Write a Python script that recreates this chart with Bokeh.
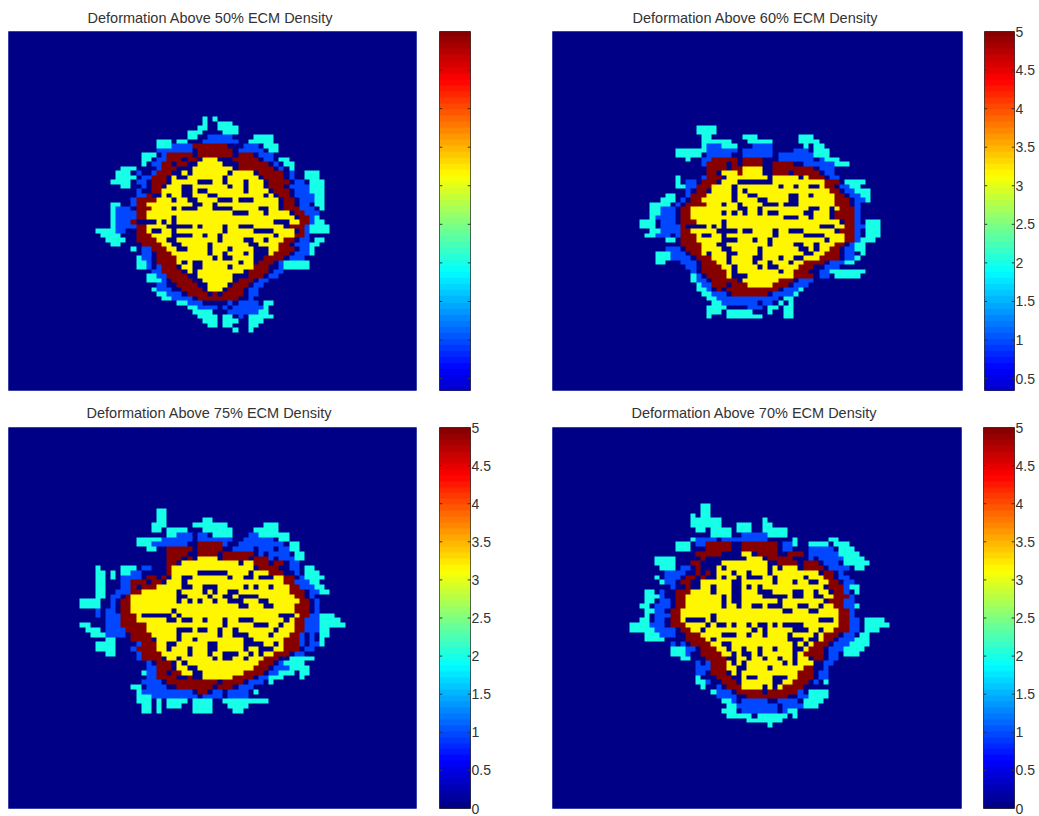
import numpy as np
from bokeh.plotting import figure
from bokeh.layouts import row, column
from bokeh.models import LinearColorMapper, Range1d, LinearAxis, FixedTicker
from bokeh.embed import file_html
from bokeh.resources import INLINE

TITLES = ["Deformation Above 50% ECM Density", "Deformation Above 60% ECM Density",
          "Deformation Above 75% ECM Density", "Deformation Above 70% ECM Density"]
CB_TICKS = [0, 0.5, 1, 1.5, 2, 2.5, 3, 3.5, 4, 4.5, 5]
CB_LABELS = {0: "0", 0.5: "0.5", 1: "1", 1.5: "1.5", 2: "2", 2.5: "2.5", 3: "3", 3.5: "3.5", 4: "4", 4.5: "4.5", 5: "5"}
LEVELS = {".": 0, "b": 1, "c": 2, "y": 3.2, "r": 5}

PANEL_A = """
..... ..... ..... ..... .c.c.
..... ..... ..... ..... .c..c cc
..... ..... ..... ..... cc..c ccc
..... ..... ..... ...cc c.... ccc
..... ..... ..... ...cc ..bbb bb... .cccc
..... ..... ..ccc .cc.. .bbbb bbb.. ccccc
..... ..... ..ccc bbbbr rrrrr r...b bb.cc c
..... ..... ..bbb bbbb. rrrrr rr.bb bbb.c c
..... ....c cc.br rrrr. rrrrr rr.rr r.bbb
..... ....c c.bbr rr.rr .yyy. ..rrr rr.bb .cc
..... ....c .bbrr .rr.. yyyyy ...rr rrrr. b.cc
..... ccc.. ..brr r...y yyyyy yy.rr rrrrr .b.c
....c cc.b. .brrr ..y.y yyyyy y.yyy y.rrr rr.b. .ccc.
....c ccc.b brrr. y..yy yyyyy .yyyy yy.rr rr.b. .ccc.
...cc cc.bb .rrr. yyyyy ...yy .yyy. yyy.r rrr.b b.ccc
..... cc..b .rr.y yy..y yyyyy y.yy. yyy.r rr.bb bbccc
..... ...b. .rryy yy..y ..yyy yyyy. yyyy. rrr.b bbccc
..... ...bb r..y. yy..y yy..y yyyyy yyy.y .rr.b bbbcc
..... ..brr rryyy .yy.. yyyy. ..y.. .yyyy y.rr. bbbcc
...cc ..brr yyyyy yyyy. .yy.y yyyyy yyyyy y.rr. bb.cc
...cb bb.rr ryyyy .y... yyy.. ..yyy yy..y y.rrr bbb.c
...cb bbbrr yyyyy yyyyy yyyyy yy... yyy.y yyy.r rbbb.
...cb bbbrr yyyyy .yyyy yyyyy yyyyy yyyyy yyyy. rrbc.
...cb bbr.. ..y.y .yyyy yyyyy yyyyy yyyyy ...yy rrbcc
...cb bbbrr yyyy. ....y .yyyy .yy.. .yyyy yy.rr rbccc c
ccccb b..rr y..yy .yyyy yyyyy .yyyy y.... yyyy. rbccc c
.cccc ...rr ryyyy ....y y.yy. yyyyy yyyyy .yyyr rb...
..ccc c..rr rryy. .yyyy yyyy. yyyy. .yy.y yyrr. bb.cc
...cc ....r rrryy ..yyy yy.yy yyyyy ..yyy yrr.b bbcc.
..... ..c.b brrry y..yy yy.yy y.yyy y...y yrrr. bbc..
..... ....b b.rrr yyyyy yy.yy .yyy. y...y rrr.b bbc..
..... ...cb b.rrr ryyyy yyy.y ..yyy y..rr rr.bb b....
..... ...cc b.rrr ry.y. .yyyy yyy.y y.rrr .bccc cc...
..... ...cc b.brr r.yy. .yyyy y.yyy yrrr. .bccc cc...
..... ..... .bbrr rr.y. yyyyy yyyy. rrrr. bb...
..... ..... ccbbr rrr.. yyyyy yy... rrr.b b
..... ..... cccb. rrrr. .yyyy yy.rr r.bb.
..... ..... ..bb. .rrrr ..yyy y.rrr .bb..
..... ..... .cbbb ..rrr r.yyy .rrr. bb...
..... ..... ..ccb bb.rr rr.r. rrrr. bb...
..... ..... ...cc bbbb. rrrrr rrr.. b....
..... ..... ..... .ccbb b.... .b.bb bb.cc
..... ..... ..... ...cc bbbb. b.bbb bbbc.
..... ..... ..... ....c ccc.. .bbbb bbcc.
..... ..... ..... ..... cccc. cc.b. ccccc
..... ..... ..... ..... .ccc. ccc.. ccc..
..... ..... ..... ..... ..cc. cc... cc...
..... ..... ..... ..... ..... ..c.. c
"""

PANEL_B = """
..... ..... .cccc
..... ..... .cccc
..... ..... ..cc. ..... ccc.. ..... .ccc
..... ..... ..ccc ccc.. .cccc c.... .cccc
..... ..... ..cbb bccc. ..bbb b.... ..c.c c
..... ..ccc cccbb bbbb. bbbbb b.... bbb.c cc
..... ..ccc cc.bb bbb.. bbbbb b.bbb bbbbc cc
..... ....c ..bbr rrrr. rrrr. ..bbb bbbb. bccc
..... ..... ..brr rr.r. rrrr. .rrrr ..bbb bbbcc c
..... ..... ...rr rr.rr yyyy. .rrrr rrrr. bbb
..... ..... ...rr .yyyr yyyy. .rrr. rrrrr .bb
..... ..c.. ..brr r.yyy yyyyy .yyyy y.yrr r.bb
..... ..c.b b.rrr .yyy. ..... .yyyy yyyyy yrrr. cccc.
..... ..ccb brrry yyy.y yyyyy yy.yy .yy.. yrr.b bcc
..... ....b .rr.y yyy.y .yyyy yyyyy yyyyy yyrr. bbccc
..... cc..b rrryy yyy.y y..yy yyyy. .yy.y yyyrr .bbcc
....c cc.b. rryyy yyy.y yyy.. yyyy. .yyyy yyyrr r.bbc
..ccc c.b.r rrryy y.yy. yyyy. ..y.. .yyyy yyyrr r.b
..ccb bb.rr yyyyy yyyy. .yy.y yyyyy yyy.. yy.yr rrb
..ccb bb.rr yyyyy y.y.y .yy.y ..yyy yy..y yy.rr rrb
..cbb bb.rr yyyyy yyyyy yyyyy yyy.. .yy.y yy.rr rrb
ccc.b bb.rr ryyyy y.yyy yyyyy yyyyy yyyyy yyyy. rrb.c cc
ccc.b bbbr. ...y. y.yyy yyyyy yyyyy yyyyy ...yy rrbbc cc
..ccb bbbrr yyyyy ....y ..yyy y.yy. ..yyy yyy.r rrb.c cc
.ccbb b.brr ry..y y.yyy yyyyy y.yyy yy... .yyyy rrb.c cc
..... cc.rr ryyyy y...y yy.yy .yyyy yyyyy y.yyy rrbcc c
..... ...rr rryyy ..yyy yyyyy .yyyy ..yy. yyyrr .bcc
..... bbb.r rryyy y..yy yyy.y yyyyy y..y. yyrr. bbcc
...cc cbbb. rry.y yy..y yyy.y yyyyy yy..y yrrr. bb.c
...cc cbbbb .rrry yy.yy yy..y yy.yy ..yyy rrrr. bbc
...cc ...bb b.rrr yy.yy yy.yy .yyy. yyrrr r.bbb cc
..... ....b b.rrr ryy.y yyy.y ..yyy yrrr. .bbb.
..... ..... b.rrr rry.y yyyyy yy.yy rrr.. bbccc cccc.
..... ..... cb.rr rry.. .yyyy yyyyy rrrr. bb.cc ccc
..... ..... cbb.r rrrr. yyyyy yyrrr .bbb
..... ..... .cbbr rr.rr ryyyy yrrr. bbb
..... ..... .ccb. r.rrr rrrrr rr.bb bc.
..... ..... ..ccb bb.rr rrrrr .bbbb c
..... ..... ...cc bbbbb bbbbb bb.cc
..... ..... ....c cbbbb bbb.b b.c.c
..... ..... ...cc cc... .bbb. cc.cc
..... ..... ...cc c.ccc cc... c..cc
..... ..... ...c. ..ccc cccc. ...cc
"""

PANEL_C = """
..... ..... ..... cc
..... ..... ..... cc
..... ..... ..... cc... ....c c
..... ..... ....c cc... ..ccc cccc. ..... .ccc
..... ..... ....c c.ccc c...c ccccc ....c cccc
..... ..... ..... ..ccb bb.bb .cccc ...bb ccccc c
..... ..... .cccc cbbbb bb.bb bbbbb ..bbb bbb.c c
..... ..... .cccb bbbbb b..rr rrrb. .bbbb bbbbb .cc
..... ..... ...cc ..rrr rr.rr rrr.. bbbb. bbb.b bcc
..... ..... ..... ..rrr r..rr rr.rr rrrr. b.bbb b.cc
..... ..... ..... ..rrr .r.yy yy.rr rrr.r rrb.b bbcc
..... ..... ..... ..rr. yyyyy yyyyy y.yyr rr.rr .bb
...c. ...cc c.bb. ..ryy yyyyy yyyyy yyyy. rrrr. .bb.c c
...cc .c.cc bb... ..ryy yyy.. ....y yyy.y yyrrr ..b.c cc
...cc .c.bb bb.rr .r.yy ..yyy yyyy. yy..y ...yy rr.bc ccc
...cc ...bb rrr.r r.yyy .yyyy yyyyy yyyyy yyyyy rrbbb cc
...cc ...bb r.rrr yyyyy ..yy. ..yyy yy.y. yy.yy yrrbb bcc
...cc ..bbb rryyy yyyy. yyyy. y.yy. .yyyy yyyyy yrrr. bbcc
...cc .bb.r yyyyy yyyy. .yyyy .yy.. y.... yyyyy yyrr. b
cccc. .b.rr yyyyy yyyy. y.y.y y.yy. ..yyy ..yyy yyyrr .b
cccc. .b.rr yyyyy yyyyy yyyyy yyyyy y..yy y..yy yyrrr .b
...b. bb.rr yyyyy yyy.y yyyyy yyyyy yyyyy yyyyy yyrrr .b.
...b. bbbrr ry... ...y. yyyyy yyyyy yyyyy yyyy. ..yrr bbccc
..... bbbrr ryyyy yy..y ..yy. yyy.y y...y yyyyy .yrrb bbccc c
cc... bbbrr rrryy yyyyy yyyyy yyy.y yyyy. ..yy. yyrrb bbccc cc
.ccc. bbbbr rrryy yyyy. ..y.. yy.yy .yyyy yyy.y yyrrb bbcc.
..ccc bbbb. rrrry yyyy. yyyyy yy.yy ...yy yy.yy yrrb. b.cc
..... cc... rrrr. yyyy. yy.yy yyyyy yy..y yyyyy rrrb. b.c
...cc cc... .brrr yy..y yyyyy ..yyy yy... .yy.y rrrb. bbc
...cc cc... brrrr yy.yy y.yyy ..yyy yy.yy ...yy rrr.b b
..... cc... .brrr ryyyy y.yyy .yy.. .yy.y .yyrr r.bb.
..... ..... .brrr r.yy. yyyyy y.y.. yy.yy yrrr. .cccc c
..... ..... ...b. rrr.y .yyyy yyyyy yyyyy rrr.b cccc
..... ..... ...bb rrr.y y..yy yyyyy yyyyr rr.bb bcccc
..... ..... ..cbb rr.rr yy..y yyyyy yyrrr r.bbc cc.cc
..... ..... ...bb rrrr. .r..y yyyyy rrrr. bbccc ...c.
..... ..... ..bbb b.rrr rrrrr rr.rr rr.bb b.c
..... ..... cc.bb bb..r rrrrr r.rrr .bbb.
..... ..... .cbbb bbbbb bb.rr .bb.b bbb.c
..... ..... .cccb bbbbb bbb.b bbb.b bbb.
..... ..... .ccc. c.ccc c.ccc c..cc ccccc cc
..... ..... ..cc. c.ccc ..ccc c...c ccc
..... ..... ..cc. c.... ..ccc c.... cc
"""

PANEL_D = """
..... ..... ....c c
..... ..... ....c c
..... ..... ..c.c c
..... ..... ..ccc ccc.. ..... .c
..... ..... ..ccc ccc.. .ccc. .cc
..... ..... ...cc .cccc .ccc. .cccc c
..... ..... ..... .cccc ..bbb bbccc c
..... ..... ..cbb bb.bb bbbbb bb... ..c.. ....c c
..... ....c cc.bb rrrrr ..rrr rrrr. bbc.. cccc. ccc
..... ....c cc... rrrrr ..rrr rrrr. bb... bbbbb .ccc
..... ..... ...rr rrr.. ..yy. rrrr. .rrr. bbbbb bcccc
..... cccc. ....r ..... ...yy y.rrr rr... b.bbb bbccc c
..... cccc. ..rr. ...yy yyyyy yy..r rrr.r rr.bb b.ccc cc
..... .ccc. bb.r. ..y.y yyyyy yy.y. yyy.r rrr.b bbb.c c
..... ..bbb b..r. r.yyy .yy.y yy.yy yyyyy yy.rr .b..
..... c.bbb .rr.r ..y.y y.y.. .yy.y yyyy. yyyrr .bb
..... .cbb. rr..y yyyyy ..yyy yyy.y yy.yy ..yyr r.bb.
..... ...b. .r..y y.yyy ..y.y .yyyy yyyyy yyy.r rrbcc
...cc .b..r rryyy y.yyy ..yyy ...yy yy..y y.yy. rrb.c
...cc cb..r ryyyy yyy.y ..yyy y.... .y..y y..yy rrrb.
...cc .bb.r ryyyy yyy.y ..yyy yyyy. yyyyy yyy.r rrbb
..cc. bbb.r ryyyy yyy.y y.yy. .y... yyy.. yy.yy rrbbc
...cc bb.rr yyyyy yyyyy yyyyy yyyyy ..yyy ..yyy yrrb
...c. bbbrr yyyyy y.yyy yyyyy yyyyy yyyyy yyyyy yrrb
..cc. bb.rr y.... y.yyy yyyyy yyyyy yyyyy yy... yrrbb .cccc
ccccb bb.rr ryyyy .y..y .yy.y ..y.y ....y yyyyy yrrbb .cccc c
ccccc bbbb. rryy. yyyyy yyyy. y.yyy yy... yy.yy rrrbb .ccc
...cc cbbb. .rrry yyy.. .yy.y y.yyy y.yyy y.yrr r.bb. cc
...cc cc... .rrrr y.yyy yyyyy yyyyy y...y ..yrr .bbbc cc
..... ...b. b.rrr ryy.. yyyyy yyyyy yy.y. yrrr. bbbcc cc
..... ...cc cbb.r rryy. yy.yy .yy.y yy..y rrr.b bbccc c
..... ...cc cb..r rrryy .y..y .yyyy yy.yr rrr.b b.ccc
..... ..... cc... rrrr. .yy.y y.yy. yy.yy .rr.b b
..... ..... ...b. brrry .y.yy yyyyy .y.yy y..bb
..... ..... ...bb brrry y..yy yy.yy yyyyr r..b.
..... ..... ...bb .rrr. y.yyy yyyyy yyyrr r.bb.
..... ..... ...c. ..rrr ..y.. yyy.. .yyrr r.bb.
..... ..... ...cc b..rr r.yyy yyy.. yyrrr .b.c.
..... ..... ....c ..b.r rryyy y.y.y rrrr.
..... ..... ..... .cbbb .rrrr r.rrr rrrb. cccc
..... ..... ..... ..bbb b..rr rrrrr r..bb cccc
..... ..... ..... ...cc b.bbb bb..b bbb.c ccc
..... ..... ..... ....c cbbbb bbbb. bbbbc cc
..... ..... ..... ...cc c.bbb bbbb. bcc
..... ..... ..... ....c cccc. ccccc c.c
..... ..... ..... ..... ...cc ccccc
..... ..... ..... ..... ..... ..c
"""


def jet(n):
    out = []
    for t in (np.arange(n) + 0.5) / n:
        r = np.clip(min(4 * t - 1.5, -4 * t + 4.5), 0, 1)
        g = np.clip(min(4 * t - 0.5, -4 * t + 3.5), 0, 1)
        b = np.clip(min(4 * t + 0.5, -4 * t + 2.5), 0, 1)
        out.append("#%02x%02x%02x" % (int(r * 255), int(g * 255), int(b * 255)))
    return out


mapper = LinearColorMapper(palette=jet(64), low=0, high=5)
GRID = 80


def grid_of(text, top, left):
    g = np.zeros((GRID, GRID))
    for i, line in enumerate(text.strip("\n").split("\n")):
        for j, ch in enumerate(line.replace(" ", "")):
            g[top + i, left + j] = LEVELS[ch]
    return g[::-1]


def heat(panel, title, top, left, w, h, ml, mb, mr, title_x, standoff, mt):
    p = figure(width=w, height=h, min_border_left=ml, min_border_right=mr, min_border_top=mt,
               min_border_bottom=mb, toolbar_location=None, output_backend="svg",
               x_range=Range1d(0, GRID), y_range=Range1d(0, GRID), x_axis_type=None, y_axis_type=None)
    p.grid.visible = False
    p.outline_line_color = "#5058b8"
    p.outline_line_width = 1
    p.image(image=[grid_of(panel, top, left)], x=0, y=0, dw=GRID, dh=GRID, color_mapper=mapper)
    p.title.text = title
    p.title.align = "left"
    p.title.offset = title_x
    p.title.standoff = standoff
    p.title.text_font = "Liberation Sans"
    p.title.text_font_size = "14.5px"
    p.title.text_font_style = "normal"
    p.title.text_color = "#333333"
    return p


def bar(w, h, mt, mb, mr, low, labelled):
    p = figure(width=w, height=h, min_border_left=0, min_border_right=mr, min_border_top=mt,
               min_border_bottom=mb, toolbar_location=None, output_backend="svg",
               x_range=Range1d(0, 1), y_range=Range1d(low, 5), x_axis_type=None, y_axis_type=None)
    p.grid.visible = False
    p.outline_line_color = "#333333"
    levels = np.linspace(0, 5, 64).reshape(64, 1)
    p.image(image=[levels], x=0, y=0, dw=1, dh=5, color_mapper=mapper)
    ticks = [t for t in CB_TICKS if t >= low]
    p.segment(x0=[0] * len(ticks), x1=[0.09] * len(ticks), y0=ticks, y1=ticks, color="#333333", line_width=1)
    p.segment(x0=[0.91] * len(ticks), x1=[1] * len(ticks), y0=ticks, y1=ticks, color="#333333", line_width=1)
    if labelled:
        ax = LinearAxis(ticker=FixedTicker(ticks=ticks), major_label_overrides=CB_LABELS,
                        axis_line_color=None, major_tick_line_color=None, minor_tick_line_color=None,
                        major_tick_in=0, major_tick_out=0, major_label_standoff=1,
                        major_label_text_font="Liberation Sans", major_label_text_font_size="14px",
                        major_label_text_color="#333333", major_label_orientation="horizontal")
        p.add_layout(ax, "right")
    return p


TOP_H, BOT_H = 395, 421
a = heat(PANEL_A, TITLES[0], 19, 17, 439, TOP_H, 8, 5, 23, 79, 12, 31)
b = heat(PANEL_B, TITLES[1], 21, 17, 432, TOP_H, 0, 5, 22, 80, 12, 31)
c = heat(PANEL_C, TITLES[2], 17, 14, 439, BOT_H, 8, 5, 23, 78, 14, 32)
d = heat(PANEL_D, TITLES[3], 16, 15, 431, BOT_H, 0, 5, 22, 79, 14, 32)
ca = bar(113, TOP_H, 31, 5, 82, 0.345, False)
cb = bar(55, TOP_H, 31, 5, 25, 0.345, True)
cc = bar(113, BOT_H, 32, 8, 82, 0, True)
cd = bar(56, BOT_H, 32, 8, 25, 0, True)

page = column(row(a, ca, b, cb), row(c, cc, d, cd))
open("out.html", "w").write(file_html(page, INLINE))
